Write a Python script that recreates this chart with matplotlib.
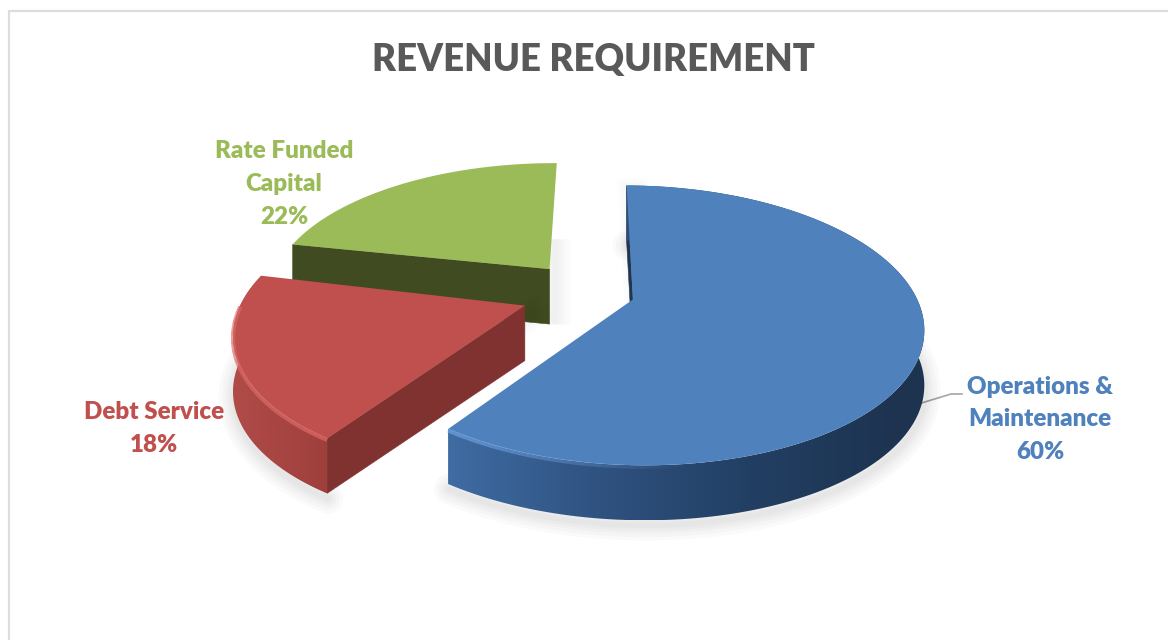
import numpy as np
import matplotlib
matplotlib.use('Agg')
from matplotlib import pyplot as plt
from matplotlib.colors import to_rgb
from matplotlib.collections import LineCollection
from matplotlib.patches import Polygon

plt.rcParams['font.family'] = ['Lato', 'DejaVu Sans']

# chart values
labels = ['Operations &\nMaintenance', 'Debt Service', 'Rate Funded\nCapital']
values = [60, 18, 22]
top_colors = ['#4F81BD', '#C0504D', '#9BBB59']
title = 'REVENUE REQUIREMENT'

# 3d look: pixel centre, radii, perspective, explosion, thickness
cx, cy = 578, 293
rx, ry = 281, 132
persp = 0.183
explode = 0.2
thick = 55
start = 0.5

# small per-slice corrections: pixel shift and degrees on each edge
nudge = [(1, -2), (0, 3), (6, -4)]
edge_nudge = [(0, -1), (-2.5, 2), (0.5, 0)]

# wall colours along x, and the inner (flat) wall colours
wall_ramps = [
    ([448, 600, 750, 900], ['#3F6CA3', '#2F5280', '#223F63', '#1D3350']),
    ([233, 330], ['#B04B48', '#9E3F3C']),
    ([290, 560], ['#404B22', '#404B22']),
]
inner_colors = ['#1F3552', '#7F3230', '#404B22']
rim_colors = ['#6FA0E0', '#DB6A66', '#9BBB59']
draw_order = [2, 1, 0]


def project(u, v):
    d = 1 + persp * v
    return cx + rx * u / d, cy - ry * v / d


fig = plt.figure(figsize=(11.68, 6.4), dpi=100)
ax = fig.add_axes([0, 0, 1, 1])
ax.axis('off')

# chart frame, only left and top fall inside the crop
ax.plot([9, 9, 1168], [640, 10.5, 10.5], color='#DDDDDD', lw=1.6, zorder=1)

ax.text(593.5, 60, title, color='#595959', fontsize=26.3, fontweight='heavy',
        ha='center', va='center', zorder=20)

bounds = np.cumsum([0] + values) / sum(values) * 360 + start
z = 5
for i in draw_order:
    t0 = np.radians(bounds[i] + edge_nudge[i][0])
    t1 = np.radians(bounds[i + 1] + edge_nudge[i][1])
    mid = np.radians((bounds[i] + bounds[i + 1]) / 2)
    ou, ov = explode * np.sin(mid), explode * np.cos(mid)
    t = np.linspace(t0, t1, 160)
    arc_x, arc_y = project(ou + np.sin(t), ov + np.cos(t))
    apex_x, apex_y = project(ou, ov)
    arc_x, apex_x = arc_x + nudge[i][0], apex_x + nudge[i][0]
    arc_y, apex_y = arc_y + nudge[i][1], apex_y + nudge[i][1]
    top_x = np.r_[apex_x, arc_x]
    top_y = np.r_[apex_y, arc_y]

    # soft shadow under the slice
    for lw in [22, 17, 12, 8, 4]:
        if i == 2:
            # green only throws a shadow to the right of its back edge
            ax.plot([apex_x + 5, apex_x + 5], [apex_y - 30, apex_y + thick], color='black',
                    alpha=0.012, lw=lw, solid_capstyle='butt', zorder=z)
        else:
            ax.plot(arc_x + 1, arc_y + thick + 5, color='black', alpha=0.018, lw=lw,
                    solid_capstyle='round', zorder=z)
            ax.plot([apex_x + 7, arc_x[0] + 7], [apex_y + 8, arc_y[0] + 8], color='black',
                    alpha=0.012, lw=lw, zorder=z)
    z += 1

    # flat wall of the edge that faces us, the curved wall goes over it
    ex, ey = arc_x[0], arc_y[0]
    ax.fill([apex_x, ex, ex, apex_x], [apex_y, ey, ey + thick, apex_y + thick],
            color=inner_colors[i], lw=0.4, zorder=z)
    z += 1

    # outer curved wall, gradient clipped to the band under the arc
    if i != 2:
        band = np.column_stack([np.r_[arc_x, arc_x[::-1]], np.r_[arc_y, arc_y[::-1] + thick]])
        clip = Polygon(band, closed=True, transform=ax.transData, fc='none', ec='none')
        ax.add_patch(clip)
        xs = np.linspace(band[:, 0].min(), band[:, 0].max(), 256)
        stops, cols = wall_ramps[i]
        rgb = np.array([to_rgb(c) for c in cols])
        grad = np.stack([np.interp(xs, stops, rgb[:, k]) for k in range(3)], axis=-1)[None, :, :]
        im = ax.imshow(grad, extent=[xs[0], xs[-1], band[:, 1].max(), band[:, 1].min()],
                       aspect='auto', zorder=z, interpolation='bilinear')
        im.set_clip_path(clip)
    z += 1

    # top face
    ax.fill(top_x, top_y, color=top_colors[i], lw=0, zorder=z)
    z += 1

    # bevel along the front of the rim, bright on the left and fading on the blue slice
    pts = np.column_stack([arc_x, arc_y + 1.5])
    segs = np.stack([pts[:-1], pts[1:]], axis=1)
    frac = np.clip((arc_x[:-1] - 448) / 240, 0, 1) if i == 0 else np.zeros(len(segs))
    facing = np.cos(t[:-1]) < 0
    rgba = np.column_stack([np.tile(to_rgb(rim_colors[i]), (len(segs), 1)),
                            facing * 0.75 * (1 - frac)])
    ax.add_collection(LineCollection(segs, colors=rgba, linewidths=3, zorder=z))
    z += 1

ax.set_xlim(0, 1168)
ax.set_ylim(640, 0)

# data labels
ax.text(1040, 419.5, labels[0] + '\n%d%%' % values[0], color=top_colors[0], fontsize=17.4,
        fontweight='heavy', ha='center', va='center', linespacing=1.59, zorder=20)
ax.text(154, 428.5, labels[1] + '\n%d%%' % values[1], color=top_colors[1], fontsize=17.4,
        fontweight='heavy', ha='center', va='center', linespacing=1.59, zorder=20)
ax.text(284, 184, labels[2] + '\n%d%%' % values[2], color=top_colors[2], fontsize=17.4,
        fontweight='heavy', ha='center', va='center', linespacing=1.59, zorder=20)

# leader line of the blue label
ax.plot([915, 951, 962], [405, 394, 394], color='#A6A6A6', lw=1.2, zorder=4)

fig.savefig('out.png', dpi=100, facecolor='white')
